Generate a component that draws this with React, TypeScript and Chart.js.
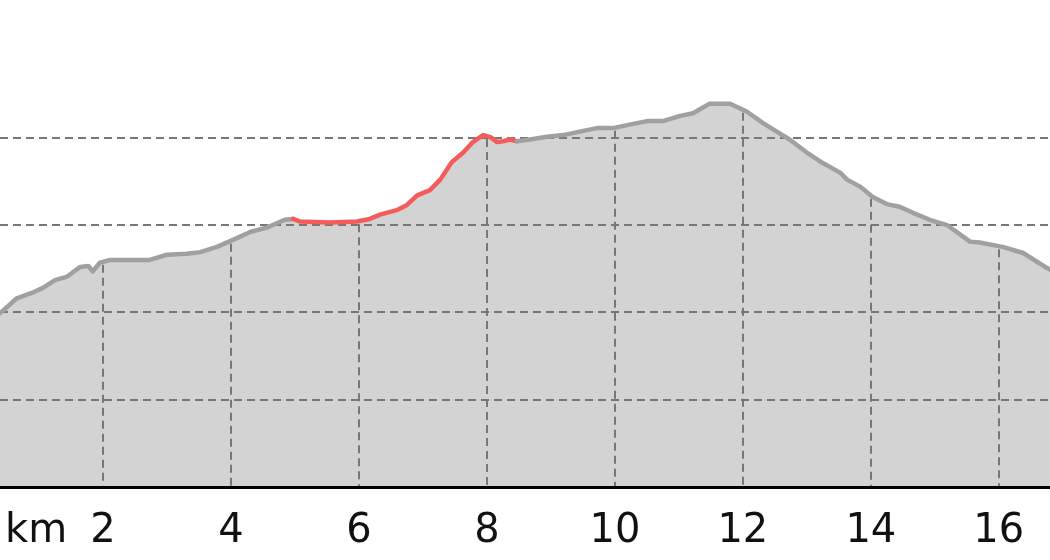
import React, { useEffect, useRef } from "react";
import { Chart, registerables } from "chart.js";

Chart.register(...registerables);

// Distance along the route (km)
const distanceKm = [
  0.39, 0.65, 0.91, 1.06, 1.25, 1.44, 1.64, 1.77, 1.84, 1.95, 2.11, 2.73, 3.0, 3.31, 3.52, 3.78,
  4.03, 4.3, 4.56, 4.84, 4.97, 5.08, 5.55, 5.97, 6.17, 6.33, 6.59, 6.75, 6.91, 7.11, 7.27, 7.45,
  7.63, 7.78, 7.94, 8.05, 8.16, 8.25, 8.36, 8.47, 8.67, 8.94, 9.19, 9.45, 9.72, 9.97, 10.23, 10.5,
  10.75, 11.02, 11.22, 11.48, 11.8, 12.06, 12.31, 12.53, 12.73, 13.0, 13.25, 13.52, 13.63, 13.83,
  14.03, 14.25, 14.45, 14.66, 14.92, 15.19, 15.55, 15.7, 16.06, 16.38, 16.75, 16.8,
];
// Elevation (m)
const elevationM = [
  399, 416, 423, 428, 437, 441, 452, 453, 447, 457, 460, 460, 466, 467, 469, 475,
  483, 492, 497, 506, 507, 504, 503, 504, 507, 512, 517, 523, 534, 540, 552, 572,
  583, 595, 603, 601, 595, 596, 598, 596, 598, 601, 603, 607, 611, 611, 615, 619,
  619, 625, 628, 639, 639, 630, 617, 607, 598, 583, 571, 560, 552, 544,
  532, 524, 521, 514, 506, 500, 481, 480, 475, 468, 451, 449,
];
// Highlighted section (km)
const highlightStartKm = 4.97;
const highlightEndKm = 8.47;

const xMinKm = 0.39;
const xMaxKm = 16.8;
const xTickStepKm = 2;
const yMinM = 200;
const yMaxM = 689;
const yTickStepM = 100;
const unitLabel = "km";

const GRID_COLOR = "#777777";
const LINE_GRAY = "#a0a0a0";
const LINE_RED = "#f45c5c";
const FILL_GRAY = "#d3d3d3";
const TICK_FONT = { family: "'DejaVu Sans', sans-serif", size: 40 };
const TICK_PADDING = 21;
const X_AXIS_HEIGHT = 67;

const gridPlugin = {
  id: "profileGrid",
  beforeDatasetsDraw(chart: any) {
    const { ctx, chartArea, scales } = chart;
    const xs = scales.x;
    const ys = scales.y;
    const pts = chart.getDatasetMeta(0).data;
    ctx.save();
    ctx.strokeStyle = GRID_COLOR;
    ctx.lineWidth = 2;
    ctx.setLineDash([8, 5]);
    ctx.beginPath();
    ys.ticks.forEach((t: any) => {
      const py = Math.round(ys.getPixelForValue(t.value));
      if (py >= chartArea.bottom - 1) return;
      ctx.moveTo(chartArea.left, py);
      ctx.lineTo(chartArea.right, py);
    });
    ctx.stroke();
    ctx.beginPath();
    xs.ticks.forEach((t: any) => {
      const px = Math.round(xs.getPixelForValue(t.value));
      let cy = chartArea.top;
      for (let i = 0; i < pts.length - 1; i++) {
        const a = pts[i];
        const b = pts[i + 1];
        if (px >= a.x && px <= b.x) {
          const f = b.x === a.x ? 0 : (px - a.x) / (b.x - a.x);
          cy = a.y + f * (b.y - a.y);
          break;
        }
      }
      ctx.moveTo(px, cy + 3);
      ctx.lineTo(px, chartArea.bottom);
    });
    ctx.stroke();
    ctx.restore();
  },
  afterDraw(chart: any) {
    const { ctx, scales } = chart;
    const xs = scales.x;
    ctx.save();
    ctx.fillStyle = "#111";
    ctx.font = `${TICK_FONT.size}px ${TICK_FONT.family}`;
    ctx.textAlign = "left";
    ctx.textBaseline = "middle";
    ctx.fillText(unitLabel, 5, xs.top + TICK_PADDING + (TICK_FONT.size * 1.2) / 2);
    ctx.restore();
  },
};

export default function App() {
  const canvasRef = useRef<HTMLCanvasElement | null>(null);

  useEffect(() => {
    document.body.style.margin = "0";
    const canvas = canvasRef.current;
    if (!canvas) return;
    const points = distanceKm.map((d, i) => ({ x: d, y: elevationM[i] }));
    const inHighlight = (c: any) =>
      c.p0.parsed.x >= highlightStartKm - 1e-6 && c.p1.parsed.x <= highlightEndKm + 1e-6;
    const chart = new Chart(canvas, {
      type: "line",
      data: {
        datasets: [
          {
            data: points,
            borderColor: LINE_GRAY,
            backgroundColor: FILL_GRAY,
            borderWidth: 4.5,
            fill: "start",
            tension: 0,
            pointRadius: 0,
            borderJoinStyle: "round",
            borderCapStyle: "round",
            segment: {
              borderColor: (c: any) => (inHighlight(c) ? LINE_RED : undefined),
            },
          },
        ],
      },
      options: {
        responsive: false,
        animation: false,
        layout: { padding: { top: 60, bottom: 6, left: 0, right: 0 } },
        plugins: {
          legend: { display: false },
          tooltip: { enabled: false },
          filler: { drawTime: "beforeDatasetsDraw" },
        },
        scales: {
          x: {
            type: "linear",
            min: xMinKm,
            max: xMaxKm,
            afterFit: (scale: any) => {
              scale.height = X_AXIS_HEIGHT;
            },
            grid: { display: false, drawTicks: false },
            border: { display: true, color: "#000", width: 3, z: 1 },
            ticks: {
              stepSize: xTickStepKm,
              includeBounds: false,
              padding: TICK_PADDING,
              color: "#111",
              font: TICK_FONT,
              maxRotation: 0,
              autoSkip: false,
              z: 1,
            },
          },
          y: {
            type: "linear",
            min: yMinM,
            max: yMaxM,
            grid: { display: false, drawTicks: false },
            border: { display: false },
            ticks: { display: false, stepSize: yTickStepM, includeBounds: false },
          },
        },
      },
      plugins: [gridPlugin],
    } as any);
    return () => chart.destroy();
  }, []);

  return (
    <div style={{ width: 1050, height: 560 }}>
      <canvas ref={canvasRef} width={1050} height={560} style={{ display: "block" }} />
    </div>
  );
}
